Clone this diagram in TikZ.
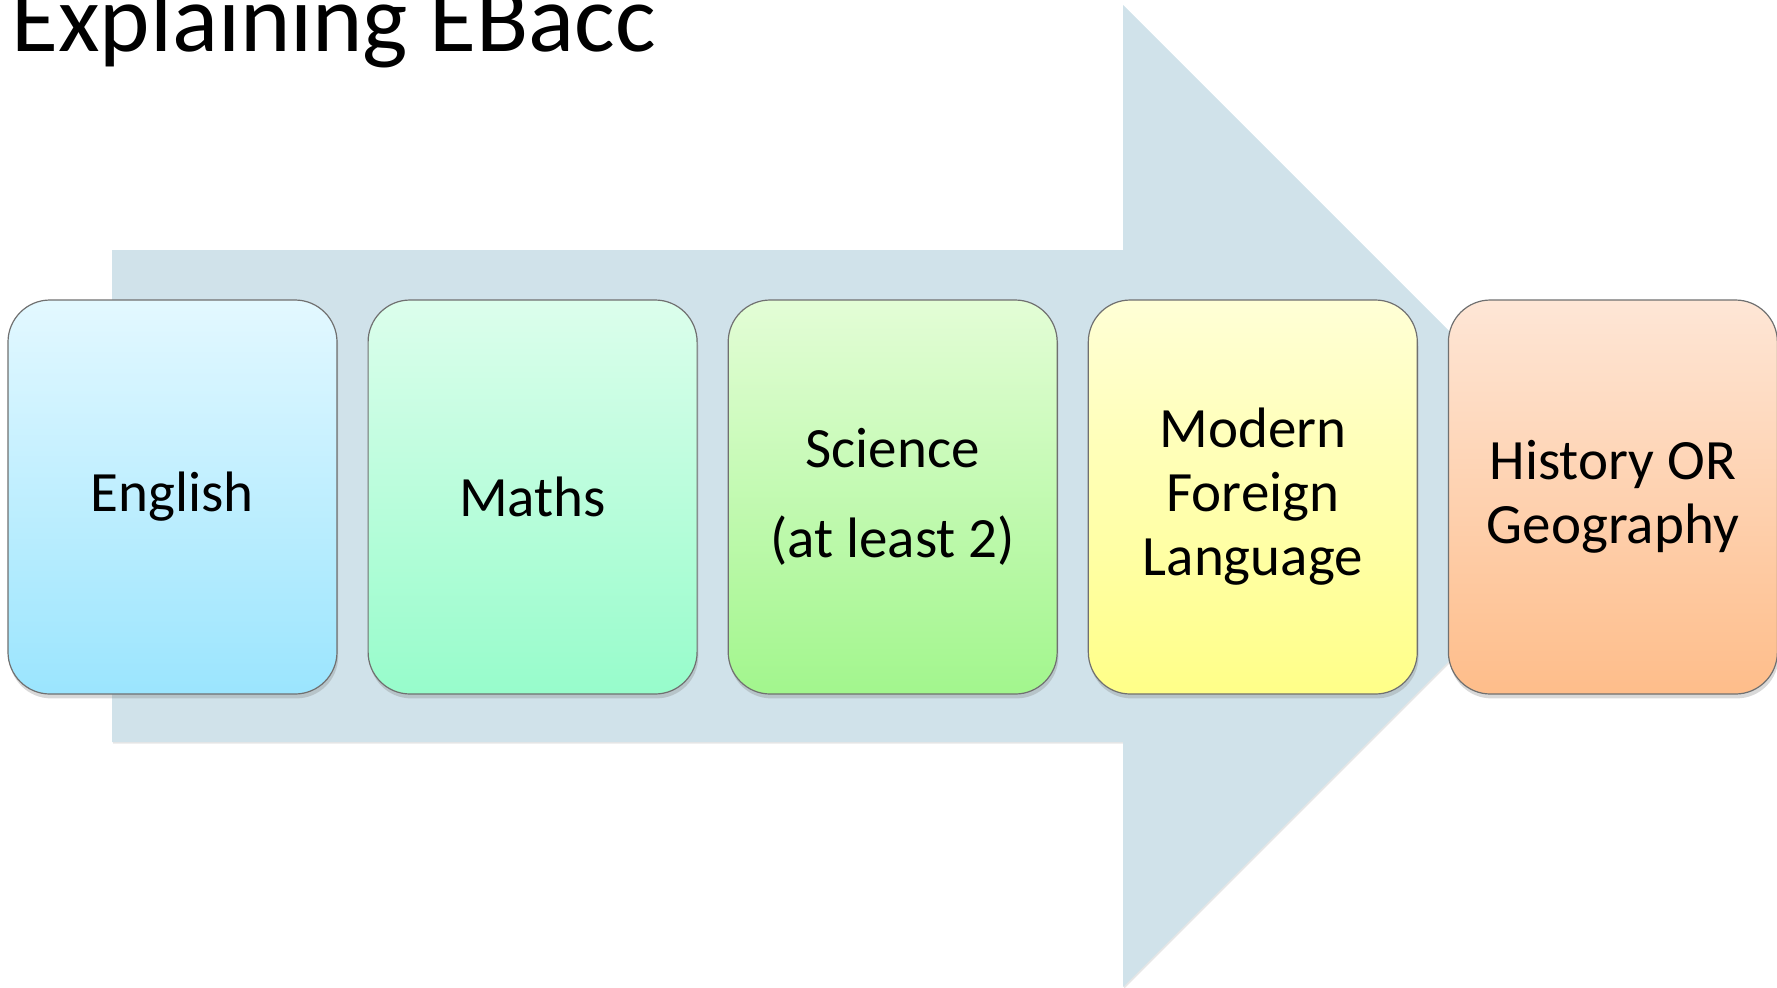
\documentclass[tikz,border=0pt]{standalone}
\usepackage{fontspec}
\setmainfont{Carlito}
\usetikzlibrary{positioning,shadows}

\definecolor{arrowblue}{HTML}{D0E2EA}
\definecolor{boxgray}{HTML}{707070}
\definecolor{engtop}{HTML}{E3F8FF}
\definecolor{engbot}{HTML}{9BE5FE}
\definecolor{mathstop}{HTML}{DCFEEC}
\definecolor{mathsbot}{HTML}{97FCCB}
\definecolor{scitop}{HTML}{E3FDD6}
\definecolor{scibot}{HTML}{A2F68D}
\definecolor{mfltop}{HTML}{FFFFD6}
\definecolor{mflbot}{HTML}{FFFF88}
\definecolor{histtop}{HTML}{FEE6D6}
\definecolor{histbot}{HTML}{FEBD8A}

\begin{document}
\begin{tikzpicture}[x=0.5pt, y=-0.5pt, node distance=14.95pt,
  subject/.style={rectangle, rounded corners=21pt, draw=boxgray, line width=0.6pt,
    minimum width=164.5pt, minimum height=197pt, align=center,
    font=\fontsize{28.5}{32}\selectfont,
    drop shadow={shadow xshift=0.6pt, shadow yshift=-2.2pt, opacity=0.3}}]
\useasboundingbox (0,0) rectangle (1777,987);
\clip (0,0) rectangle (1777,987);

\node (title) [anchor=base west, inner sep=0pt, font=\fontsize{48}{58}\selectfont] at (11,51) {Explaining EBacc};

% big arrow behind the boxes
\path [fill=arrowblue, drop shadow={shadow xshift=0.6pt, shadow yshift=-0.8pt, opacity=0.2}]
  (112,250) -- (1123,250) -- (1123,5) -- (1614,496) -- (1123,987) -- (1123,742) -- (112,742) -- cycle;

\node (english) [subject, top color=engtop, bottom color=engbot] at (172.5,497) {English};
\node (maths) [subject, right=of english, top color=mathstop, bottom color=mathsbot] {Maths};
\node (science) [subject, right=of maths, top color=scitop, bottom color=scibot] {Science\\[13pt](at least 2)};
\node (mfl) [subject, right=of science, top color=mfltop, bottom color=mflbot] {Modern\\Foreign\\Language};
\node (history) [subject, right=of mfl, top color=histtop, bottom color=histbot] {History OR\\Geography};
\end{tikzpicture}
\end{document}
